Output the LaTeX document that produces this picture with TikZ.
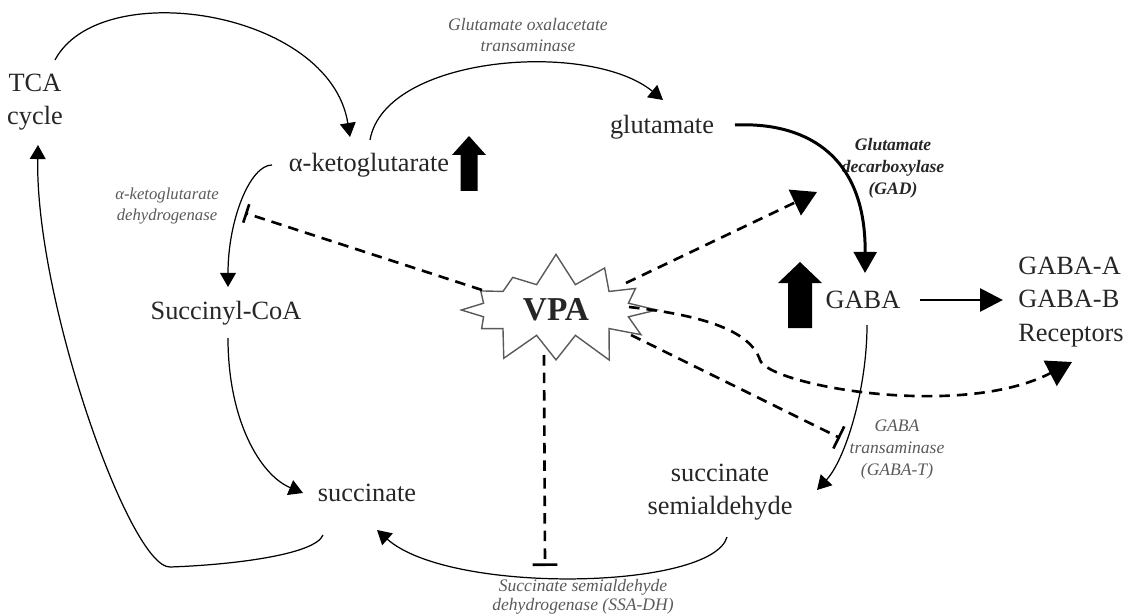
\documentclass[tikz,border=0pt]{standalone}
\usepackage{fontspec}
\setmainfont{Liberation Serif}
\usetikzlibrary{arrows.meta,shapes.symbols}
\definecolor{txt}{HTML}{262626}
\definecolor{enzgray}{HTML}{5A5A5A}
\tikzset{
  met/.style={font=\fontsize{15}{19}\selectfont, text=txt, align=center, inner sep=2pt},
  enz/.style={font=\fontsize{10}{12}\selectfont\itshape, text=enzgray, align=center, inner sep=1pt},
  conv/.style={line width=0.7pt, -{Triangle[length=8pt,width=9pt]}},
  dashinh/.style={line width=1.5pt, dash pattern=on 6pt off 4pt, -{Bar[width=14pt,line width=1.5pt]}},
  dashact/.style={line width=1.5pt, dash pattern=on 6pt off 4pt, -{Triangle[length=14pt,width=16pt]}},
}
\begin{document}
\begin{tikzpicture}[x=0.02cm,y=-0.02cm]
\useasboundingbox (0,0) rectangle (1130,615);
\node [met] (tca) at (35,102) {TCA\\cycle};
\node [met] (akg) at (369,165) {α-ketoglutarate};
\node [met] (glu) at (662,127) {glutamate};
\node [met] (gaba) at (863,300) {GABA};
\node [met, align=left] (rec) at (1071,302) {GABA-A\\GABA-B\\Receptors};
\node [met] (scoa) at (226,313) {Succinyl-CoA};
\node [met] (succ) at (367,493) {succinate};
\node [met] (ssa) at (720,492) {succinate\\semialdehyde};
\node [starburst, draw=enzgray, line width=0.8pt, fill=white, starburst points=12, starburst point height=0.65cm, random starburst=7, minimum width=4.3cm, minimum height=2.35cm, font=\fontsize{19}{22}\selectfont\bfseries, text=txt] (vpa) at (556,310) {VPA};
\node [enz, font=\fontsize{10}{11.5}\selectfont\itshape] (goat) at (528,35) {Glutamate oxalacetate\\transaminase};
\node [enz, font=\fontsize{10}{12.5}\selectfont\bfseries\itshape, text=txt] (gad) at (893,168) {Glutamate\\decarboxylase\\(GAD)};
\node [enz, font=\fontsize{9.5}{11.5}\selectfont\itshape] (akgdh) at (167,206) {α-ketoglutarate\\dehydrogenase};
\node [enz, font=\fontsize{10}{12.5}\selectfont\itshape] (gabat) at (897,450) {GABA\\transaminase\\(GABA-T)};
\node [enz, font=\fontsize{10}{10.5}\selectfont\itshape] (ssadh) at (583,597) {Succinate semialdehyde\\dehydrogenase (SSA-DH)};
\coordinate (kdhit) at (245,213);
\coordinate (gadhit) at (817,192);
\coordinate (gthit) at (840,438);
\coordinate (ssahit) at (545,566);
\coordinate (kgup) at (469,163);
\coordinate (gabaup) at (800,295);
\fill [black] (kgup) +(-8.5,28) -- +(-8.5,-8) -- +(-17,-8) -- +(0,-27) -- +(17,-8) -- +(8.5,-8) -- +(8.5,28) -- cycle;
\fill [black] (gabaup) +(-12,33) -- +(-12,-12) -- +(-22,-12) -- +(0,-33) -- +(22,-12) -- +(12,-12) -- +(12,33) -- cycle;
\draw [conv] ([shift={(20,-42)}]tca.center) .. controls +(45,-85) and +(-20,-127) .. ([shift={(-19,-28)}]akg.center);
\draw [conv] ([shift={(1,-25)}]akg.center) .. controls +(15,-85) and +(-73,-60) .. ([shift={(1,-27)}]glu.center);
\draw [line width=1.7pt, -{Triangle[length=12pt,width=13pt]}] ([shift={(73,-2)}]glu.center) .. controls +(65,-3) and +(1,-123) .. ([shift={(2,-27)}]gaba.center);
\draw [conv] ([shift={(-97,0)}]akg.center) .. controls +(-22,0) and +(0,-67) .. ([shift={(2,-26)}]scoa.center);
\draw [conv] ([shift={(2,25)}]scoa.center) .. controls +(0,82) and +(-43,-18) .. ([shift={(-64,0)}]succ.center);
\draw [conv] ([shift={(-44,42)}]succ.center) .. controls +(-8,20) and +(60,-2) .. (170,567) .. controls +(-40,1) and +(-3,155) .. ([shift={(3,43)}]tca.center);
\draw [conv] ([shift={(4,25)}]gaba.center) .. controls +(0,65) and +(28,-30) .. ([shift={(97,-2)}]ssa.center);
\draw [conv] ([shift={(7,45)}]ssa.center) .. controls +(-15,53) and +(73,65) .. ([shift={(10,37)}]succ.center);
\draw [line width=1.7pt, -{Triangle[length=13pt,width=13pt]}, shorten <=0.32cm, shorten >=0.23cm] (gaba.east) -- (gaba.east -| rec.west);
\draw [dashinh, -{Bar[width=11pt,line width=1.5pt]}] ([shift={(-74,-20)}]vpa.center) -- (kdhit);
\draw [dashact] ([shift={(70,-27)}]vpa.center) -- (gadhit);
\draw [dashact] ([shift={(73,-3)}]vpa.center) .. controls +(72,8) and +(-10,-30) .. (760,360) .. controls +(8,25) and +(-112,58) .. ([shift={(1,60)}]rec.center);
\draw [dashinh] ([shift={(75,25)}]vpa.center) -- (gthit);
\draw [dashinh] ([shift={(-12,45)}]vpa.center) -- (ssahit);
\end{tikzpicture}
\end{document}
